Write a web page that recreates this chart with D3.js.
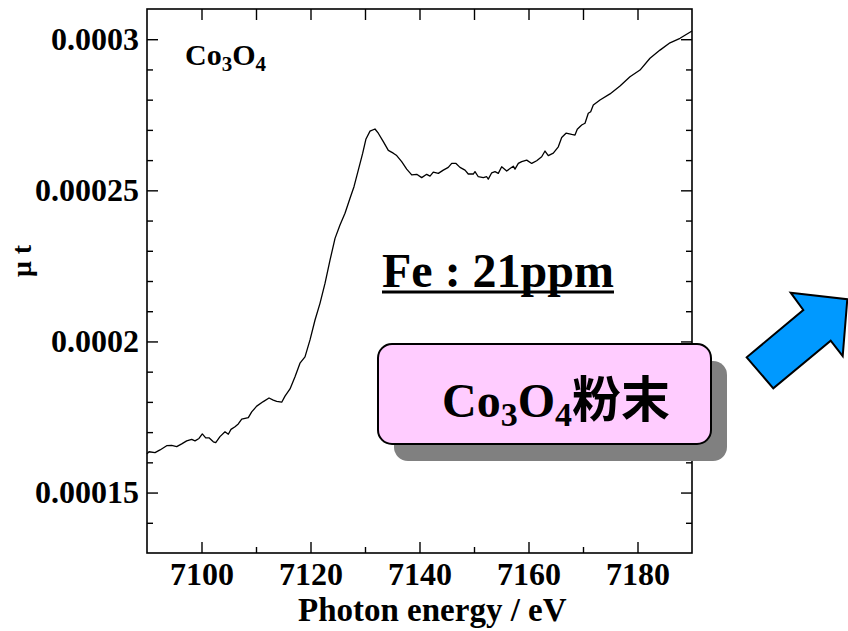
<!DOCTYPE html>
<html><head><meta charset="utf-8">
<script src="https://cdn.jsdelivr.net/npm/d3@7"></script>
<style>body{margin:0;background:#fff;} svg{display:block;}</style>
</head><body>
<svg id="c" width="848" height="631"></svg>
<script>
const energy = [7090.0,7090.37,7091.47,7092.39,7093.61,7094.53,7095.45,7096.37,7097.28,7098.20,7098.81,7099.54,7100.15,7100.77,7101.38,7102.17,7102.61,7103.39,7104.31,7104.92,7105.41,7106.15,7106.75,7107.38,7108.59,7109.21,7110.13,7111.34,7112.39,7113.17,7113.80,7114.72,7115.32,7116.24,7117.16,7118.07,7118.99,7119.91,7120.83,7121.74,7122.66,7123.58,7124.50,7125.41,7126.33,7127.25,7127.98,7128.77,7129.58,7130.18,7130.92,7131.83,7132.44,7133.36,7134.28,7135.19,7135.82,7136.73,7137.65,7138.57,7139.49,7140.40,7141.32,7141.93,7142.53,7143.45,7144.37,7145.28,7145.91,7146.70,7147.43,7148.35,7148.95,7149.87,7150.18,7150.79,7151.71,7152.33,7152.62,7153.25,7153.85,7154.46,7155.08,7156.00,7156.61,7157.21,7157.52,7158.13,7158.75,7159.67,7160.59,7161.50,7162.42,7163.03,7163.63,7164.55,7165.47,7166.09,7166.88,7167.93,7168.53,7168.95,7169.76,7170.37,7170.97,7171.41,7171.89,7173.12,7174.95,7176.79,7178.62,7180.46,7182.29,7184.13,7185.96,7187.80,7190.0];
const mu = [1.628e-4,1.635e-4,1.632e-4,1.641e-4,1.655e-4,1.656e-4,1.652e-4,1.661e-4,1.671e-4,1.676e-4,1.671e-4,1.679e-4,1.694e-4,1.681e-4,1.681e-4,1.668e-4,1.665e-4,1.685e-4,1.701e-4,1.693e-4,1.709e-4,1.718e-4,1.727e-4,1.743e-4,1.748e-4,1.767e-4,1.786e-4,1.801e-4,1.813e-4,1.806e-4,1.802e-4,1.799e-4,1.819e-4,1.843e-4,1.883e-4,1.928e-4,1.949e-4,2.005e-4,2.071e-4,2.126e-4,2.192e-4,2.269e-4,2.341e-4,2.385e-4,2.424e-4,2.474e-4,2.512e-4,2.567e-4,2.623e-4,2.670e-4,2.696e-4,2.703e-4,2.689e-4,2.661e-4,2.632e-4,2.623e-4,2.615e-4,2.595e-4,2.570e-4,2.551e-4,2.553e-4,2.542e-4,2.553e-4,2.547e-4,2.560e-4,2.556e-4,2.567e-4,2.576e-4,2.589e-4,2.589e-4,2.576e-4,2.567e-4,2.554e-4,2.554e-4,2.562e-4,2.545e-4,2.542e-4,2.545e-4,2.537e-4,2.558e-4,2.562e-4,2.556e-4,2.578e-4,2.564e-4,2.572e-4,2.580e-4,2.570e-4,2.589e-4,2.595e-4,2.600e-4,2.589e-4,2.598e-4,2.611e-4,2.630e-4,2.615e-4,2.623e-4,2.644e-4,2.675e-4,2.689e-4,2.685e-4,2.683e-4,2.702e-4,2.716e-4,2.722e-4,2.755e-4,2.760e-4,2.782e-4,2.799e-4,2.819e-4,2.845e-4,2.876e-4,2.898e-4,2.937e-4,2.964e-4,2.988e-4,3.003e-4,3.027e-4];

const xDomain = [7090, 7190];
const yDomain = [0.00013, 0.00031];
const xMajorTicks = [7100, 7120, 7140, 7160, 7180];
const xMinorTicks = [7110, 7130, 7150, 7170];
const xTopTicks = [7100, 7110, 7120, 7130, 7140, 7150, 7160, 7170, 7180];
const yMajorTicks = [0.00015, 0.0002, 0.00025, 0.0003];
const yTickLabels = ["0.00015", "0.0002", "0.00025", "0.0003"];
const yMinorTicks = [0.00014,0.00016,0.00017,0.00018,0.00019,0.00021,0.00022,0.00023,0.00024,0.00026,0.00027,0.00028,0.00029];
const xTitle = "Photon energy / eV";
const yTitle = "\u03bc t";
const sampleLabel = ["Co","3","O","4"];
const feLabel = "Fe : 21ppm";
const boxLabel = ["Co","3","O","4","粉末"];

const L = 147, R = 692, T = 9, B = 553;
const serif = "'Liberation Serif','Times New Roman',serif";
const cjk = "'Noto Sans CJK JP','Noto Sans CJK SC',sans-serif";

const svg = d3.select("#c");
const x = d3.scaleLinear().domain(xDomain).range([L, R]);
const y = d3.scaleLinear().domain(yDomain).range([B, T]);

function style(g){ g.select(".domain").remove(); g.selectAll("line").attr("stroke","#000").attr("stroke-width",1.4); g.selectAll("text").attr("font-family",serif).attr("font-weight","bold").attr("fill","#000"); }

// bottom
svg.append("g").attr("transform",`translate(0,${B})`)
  .call(d3.axisBottom(x).tickValues(xMajorTicks).tickSizeInner(-11).tickSizeOuter(0).tickPadding(9).tickFormat(d3.format("d")))
  .call(style).selectAll("text").attr("font-size",32);
svg.append("g").attr("transform",`translate(0,${B})`)
  .call(d3.axisBottom(x).tickValues(xMinorTicks).tickSizeInner(-6).tickSizeOuter(0).tickFormat(""))
  .call(style);
// top
svg.append("g").attr("transform",`translate(0,${T})`)
  .call(d3.axisTop(x).tickValues(xTopTicks).tickSizeInner(-11).tickSizeOuter(0).tickFormat(""))
  .call(style);
// left
svg.append("g").attr("transform",`translate(${L},0)`)
  .call(d3.axisLeft(y).tickValues(yMajorTicks).tickSizeInner(-11).tickSizeOuter(0).tickPadding(8).tickFormat((d,i)=>yTickLabels[i]))
  .call(style).selectAll("text").attr("font-size",32);
svg.append("g").attr("transform",`translate(${L},0)`)
  .call(d3.axisLeft(y).tickValues(yMinorTicks).tickSizeInner(-6).tickSizeOuter(0).tickFormat(""))
  .call(style);
// right
svg.append("g").attr("transform",`translate(${R},0)`)
  .call(d3.axisRight(y).tickValues(yMajorTicks).tickSizeInner(-11).tickSizeOuter(0).tickFormat(""))
  .call(style);
svg.append("g").attr("transform",`translate(${R},0)`)
  .call(d3.axisRight(y).tickValues(yMinorTicks).tickSizeInner(-6).tickSizeOuter(0).tickFormat(""))
  .call(style);

// frame
svg.append("rect").attr("x",L).attr("y",T).attr("width",R-L).attr("height",B-T)
  .attr("fill","none").attr("stroke","#000").attr("stroke-width",1.6);

// curve
const pts = energy.map((e,i)=>[e, mu[i]]);
svg.append("path").datum(pts)
  .attr("d", d3.line().x(d=>x(d[0])).y(d=>y(d[1])))
  .attr("fill","none").attr("stroke","#000").attr("stroke-width",1.3).attr("stroke-linejoin","round");

// axis titles
svg.append("text").attr("x",298).attr("y",621)
  .attr("font-family",serif).attr("font-weight","bold").attr("font-size",33).text(xTitle);
svg.append("text").attr("transform","translate(31,261) rotate(-90)").attr("text-anchor","middle")
  .attr("font-family",serif).attr("font-weight","bold").attr("font-size",28).text(yTitle);

// sample label
const sl = svg.append("text").attr("x",185).attr("y",65).attr("font-family",serif).attr("font-weight","bold").attr("font-size",30);
sl.append("tspan").text(sampleLabel[0]);
sl.append("tspan").attr("font-size",21).attr("dy",6).text(sampleLabel[1]);
sl.append("tspan").attr("dy",-6).text(sampleLabel[2]);
sl.append("tspan").attr("font-size",21).attr("dy",6).text(sampleLabel[3]);

// Fe label
const fe = svg.append("text").attr("x",382).attr("y",287).attr("font-family",serif).attr("font-weight","bold").attr("font-size",48).text(feLabel);
const feW = fe.node().getComputedTextLength();
svg.append("rect").attr("x",382).attr("y",290.5).attr("width",feW).attr("height",3).attr("fill","#000");

// box
svg.append("rect").attr("x",394).attr("y",361).attr("width",333).attr("height",100).attr("rx",14).attr("fill","#808080");
svg.append("rect").attr("x",378).attr("y",344).attr("width",333).attr("height",100).attr("rx",14)
  .attr("fill","#ffccff").attr("stroke","#000").attr("stroke-width",2);
const bt = svg.append("text").attr("x",442).attr("y",417).attr("font-family",serif).attr("font-weight","bold").attr("font-size",48);
bt.append("tspan").text(boxLabel[0]);
bt.append("tspan").attr("font-size",34).attr("dy",9).text(boxLabel[1]);
bt.append("tspan").attr("dy",-9).text(boxLabel[2]);
bt.append("tspan").attr("font-size",34).attr("dy",9).text(boxLabel[3]);
bt.append("tspan").attr("dy",-9).attr("font-family",cjk).attr("font-size",49).text(boxLabel[4]);

// arrow
const arrowPts = [[790.7,292.7],[847.3,299.3],[842.7,356],[830.7,340.7],[773.3,388.3],[746.7,357.3],[803.3,310]];
svg.append("polygon").attr("points",arrowPts.map(p=>p.join(",")).join(" "))
  .attr("fill","#0099ff").attr("stroke","#000").attr("stroke-width",2).attr("stroke-linejoin","miter");
</script>
</body></html>
